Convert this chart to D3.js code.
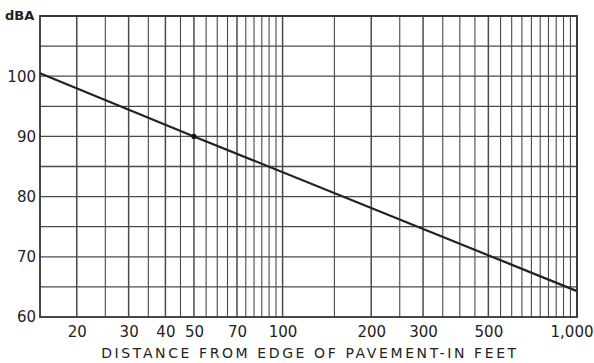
<!DOCTYPE html>
<html>
<head>
<meta charset="utf-8">
<script src="https://cdn.jsdelivr.net/npm/d3@7"></script>
<style>
  body { margin: 0; background: #fff; }
  text { font-family: "DejaVu Sans", sans-serif; fill: #222; }
</style>
</head>
<body>
<svg width="594" height="363"></svg>
<script>
let svg = d3.select("svg")
let margin = {left: 40, right: 17, top: 16, bottom: 46}
let width = 594 - margin.left - margin.right
let height = 363 - margin.top - margin.bottom

// data
let distances = [15, 50, 1000]
let levels = [100.5, 90, 64.3]
let markedPoint = {d: 50, db: 90}

let xTickValues = [20, 30, 40, 50, 70, 100, 200, 300, 500, 1000]
let xTickLabels = ["20", "30", "40", "50", "70", "100", "200", "300", "500", "1,000"]
let yTickValues = [60, 70, 80, 90, 100]
let xGrid = [20, 25, 30, 35, 40, 45, 50, 55, 60, 65, 70, 75, 80, 85, 90, 95, 100,
             150, 200, 250, 300, 350, 400, 450, 500, 550, 600, 650, 700, 750,
             800, 850, 900, 950, 1000]
let yGrid = [65, 70, 75, 80, 85, 90, 95, 100, 105, 110]

let x = d3.scaleLog().domain([15, 1000]).range([0, width])
let y = d3.scaleLinear().domain([60, 110]).range([height, 0])

let g = svg.append("g")
    .attr("transform", `translate(${margin.left},${margin.top})`)

// gridlines
g.append("g").selectAll("line.vx")
  .data(xGrid)
  .join("line")
    .attr("x1", d => x(d)).attr("x2", d => x(d))
    .attr("y1", 0).attr("y2", height)
    .attr("stroke", "#4a4a4a")
    .attr("stroke-width", d => xTickValues.includes(d) ? 1.5 : 1.1)

g.append("g").selectAll("line.hy")
  .data(yGrid)
  .join("line")
    .attr("x1", 0).attr("x2", width)
    .attr("y1", d => y(d)).attr("y2", d => y(d))
    .attr("stroke", "#4a4a4a")
    .attr("stroke-width", 1.3)

// frame
g.append("rect")
    .attr("width", width).attr("height", height)
    .attr("fill", "none")
    .attr("stroke", "#333")
    .attr("stroke-width", 1.8)

// axes (labels only)
let xAxis = d3.axisBottom(x)
    .tickValues(xTickValues)
    .tickFormat((d, i) => xTickLabels[i])
    .tickSize(0).tickPadding(9)
let xAxisG = g.append("g")
    .attr("transform", `translate(0,${height})`)
    .call(xAxis)
xAxisG.select(".domain").remove()
xAxisG.selectAll("text")
    .style("font-size", "15px")
    .attr("fill", "#222")
xAxisG.selectAll(".tick").filter(d => d === 1000).select("text")
    .attr("text-anchor", "end")
    .attr("dx", "16px")

let yAxis = d3.axisLeft(y)
    .tickValues(yTickValues)
    .tickSize(0).tickPadding(4)
let yAxisG = g.append("g").call(yAxis)
yAxisG.select(".domain").remove()
yAxisG.selectAll("text")
    .style("font-size", "15px")
    .attr("fill", "#222")

// line
let line = d3.line()
    .x((d, i) => x(distances[i]))
    .y((d, i) => y(levels[i]))
g.append("path")
    .datum(levels)
    .attr("d", line)
    .attr("fill", "none")
    .attr("stroke", "#222")
    .attr("stroke-width", 2.2)

g.append("circle")
    .attr("cx", x(markedPoint.d))
    .attr("cy", y(markedPoint.db))
    .attr("r", 2.6)
    .attr("fill", "#111")

// labels
svg.append("text")
    .attr("x", 5).attr("y", 20)
    .style("font-size", "13px")
    .style("font-weight", "bold")
    .text("dBA")

svg.append("text")
    .attr("x", 310).attr("y", 358)
    .attr("text-anchor", "middle")
    .style("font-size", "14px")
    .style("letter-spacing", "2.6px")
    .text("DISTANCE FROM EDGE OF PAVEMENT-IN FEET")
</script>
</body>
</html>
